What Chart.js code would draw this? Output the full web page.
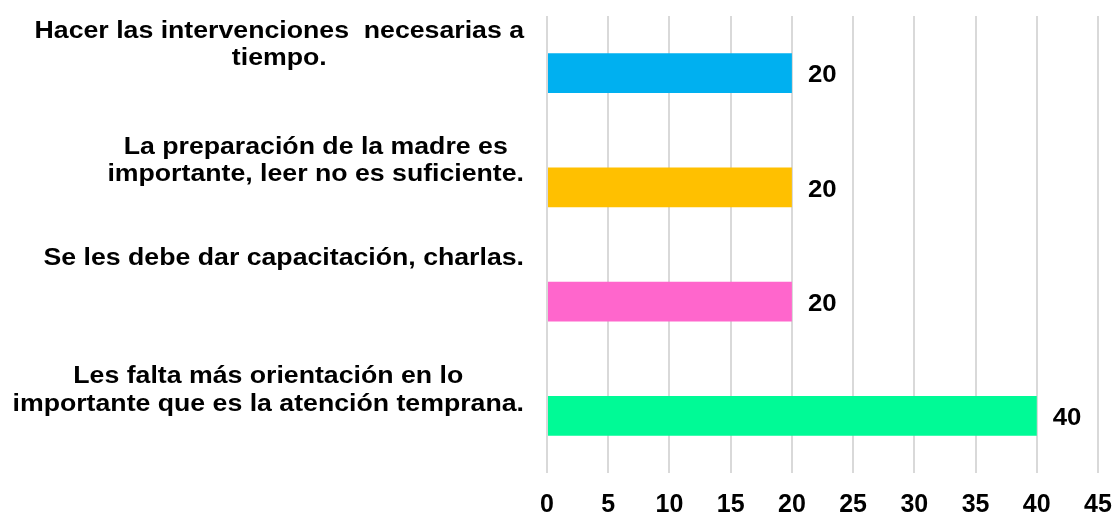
<!DOCTYPE html>
<html>
<head>
<meta charset="utf-8">
<script src="https://cdn.jsdelivr.net/npm/chart.js@4"></script>
<style>
    html, body { margin: 0; padding: 0; background: #fff; }
    #wrap { width: 1117px; height: 516px; }
</style>
</head>
<body>
<div id="wrap"><canvas id="chart"></canvas></div>
<script>
const categories = [
    ['Hacer las intervenciones  necesarias a', 'tiempo.'],
    ['La preparación de la madre es', 'importante, leer no es suficiente.'],
    ['Se les debe dar capacitación, charlas.'],
    ['Les falta más orientación en lo', 'importante que es la atención temprana.']
];
const values = [20, 20, 20, 40];
const barColors = ['#00B0F0', '#FFC000', '#FF66CC', '#00FA96'];
const xTicks = [0, 5, 10, 15, 20, 25, 30, 35, 40, 45];

const FONT = '"Liberation Sans", Arial, sans-serif';

// category labels sit above their bars, block right-aligned, lines centred,
// text a bit wider than the font's own shape like in the source image
const categoryLabels = {
    id: 'categoryLabels',
    afterDraw(chart, args, opts) {
        const ctx = chart.ctx;
        const y = chart.scales.y;
        const right = chart.chartArea.left - opts.gap;
        ctx.save();
        ctx.font = 'bold ' + opts.size + 'px ' + FONT;
        ctx.fillStyle = '#000';
        ctx.textAlign = 'center';
        ctx.textBaseline = 'middle';
        categories.forEach((lines, i) => {
            const w = Math.max(...lines.map(l => ctx.measureText(l).width)) * opts.stretch;
            const cx = right - w / 2;
            const cy = y.getPixelForValue(i) + opts.shift[i];
            const top = cy - (lines.length - 1) * opts.lineHeight / 2;
            lines.forEach((l, k) => {
                ctx.save();
                ctx.translate(cx, top + k * opts.lineHeight);
                ctx.scale(opts.stretch, 1);
                ctx.fillText(l, 0, 0);
                ctx.restore();
            });
        });
        ctx.restore();
    }
};

const valueLabels = {
    id: 'valueLabels',
    afterDatasetsDraw(chart) {
        const ctx = chart.ctx;
        const meta = chart.getDatasetMeta(0);
        ctx.save();
        ctx.font = 'bold 23px ' + FONT;
        ctx.fillStyle = '#000';
        ctx.textAlign = 'left';
        ctx.textBaseline = 'middle';
        meta.data.forEach((bar, i) => {
            ctx.save();
            ctx.translate(bar.x + 16, bar.y + 3);
            ctx.scale(1.12, 1);
            ctx.fillText(String(values[i]), 0, 0);
            ctx.restore();
        });
        ctx.restore();
    }
};

new Chart(document.getElementById('chart'), {
    type: 'bar',
    data: {
        labels: categories.map(c => c.join(' ')),
        datasets: [{
            data: values,
            backgroundColor: barColors,
            borderWidth: 0,
            categoryPercentage: 1,
            barPercentage: 0.35
        }]
    },
    options: {
        indexAxis: 'y',
        responsive: true,
        maintainAspectRatio: false,
        animation: false,
        layout: { padding: { left: 547, right: 19, top: 16, bottom: 0 } },
        plugins: {
            legend: { display: false },
            tooltip: { enabled: false },
            categoryLabels: { size: 23, stretch: 1.16, lineHeight: 27.5, gap: 23, shift: [-28, -26, -43, -25] }
        },
        scales: {
            x: {
                min: 0,
                max: 45,
                afterBuildTicks: (scale) => { scale.ticks = xTicks.map(v => ({ value: v })); },
                afterFit: (scale) => {
                    scale.height = 43;
                    scale.paddingLeft = 0;
                    scale.paddingRight = 0;
                },
                grid: { color: '#d9d9d9', lineWidth: 2, drawTicks: false },
                border: { display: false },
                ticks: {
                    color: '#000',
                    padding: 17,
                    font: { family: FONT, size: 25, weight: 'bold' }
                }
            },
            y: {
                display: false
            }
        }
    },
    plugins: [categoryLabels, valueLabels]
});
</script>
</body>
</html>
